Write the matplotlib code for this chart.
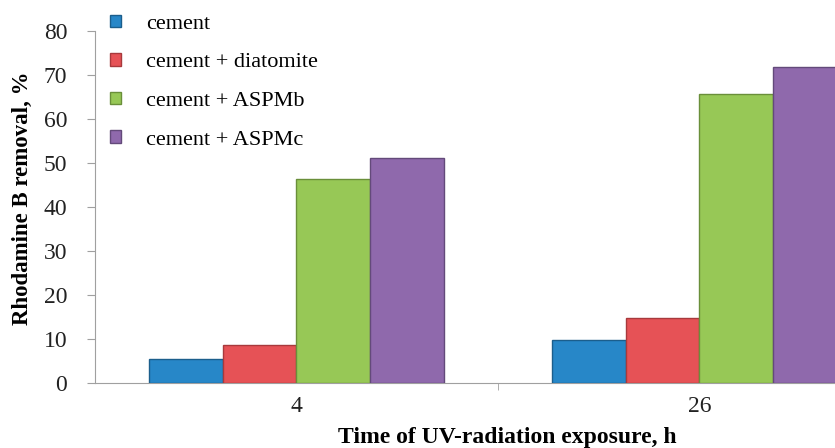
import matplotlib.pyplot as plt
import numpy as np

plt.rcParams['font.family'] = ['Liberation Serif', 'DejaVu Serif']

times = ['4', '26']
series = ['cement', 'cement + diatomite', 'cement + ASPMb', 'cement + ASPMc']
cement = [5.4, 9.8]
cement_diatomite = [8.6, 14.7]
cement_aspmb = [46.3, 65.6]
cement_aspmc = [51.1, 71.9]

colors = ['#2787C8', '#E65256', '#97C856', '#8F69AC']
edges = ['#1B5E8C', '#A8393C', '#6A8F3A', '#634A7A']

fig = plt.figure(figsize=(8.35, 4.48), dpi=100)
ax = fig.add_axes([0.1138, 0.145, 0.965, 0.786])

x = np.arange(len(times))
w = 0.1825
values = [cement, cement_diatomite, cement_aspmb, cement_aspmc]
for i, vals in enumerate(values):
    ax.bar(x + (i - 1.5) * w, vals, w, color=colors[i], edgecolor=edges[i],
           linewidth=1.0, label=series[i], zorder=3)

ax.set_xlim(-0.5, 1.5)
ax.set_ylim(0, 80)
ax.set_yticks(range(0, 81, 10))
ax.set_xticks(x)
ax.set_xticklabels(times)
ax.set_xticks([0.5], minor=True)
ax.tick_params(axis='x', which='major', length=0, labelsize=17, pad=9, colors='#222222')
ax.tick_params(axis='x', which='minor', length=5, color='#A0A0A0')
ax.tick_params(axis='y', length=6, color='#A0A0A0', labelsize=17, labelcolor='#222222', pad=14)
for s in ['top', 'right']:
    ax.spines[s].set_visible(False)
for s in ['left', 'bottom']:
    ax.spines[s].set_color('#A0A0A0')

ax.set_ylabel('Rhodamine B removal, %', fontsize=16.5, fontweight='bold')
ax.yaxis.set_label_coords(-0.077, 0.525)
ax.set_xlabel('Time of UV-radiation exposure, h', fontsize=17, fontweight='bold')
ax.xaxis.set_label_coords(0.512, -0.124)

ax.legend(loc='upper left', bbox_to_anchor=(0.108, 1.012), bbox_transform=fig.transFigure,
          frameon=False, fontsize=16, handlelength=0.5, handleheight=0.5,
          handletextpad=1.1, labelspacing=0.87)

fig.savefig('out.png', dpi=100)
